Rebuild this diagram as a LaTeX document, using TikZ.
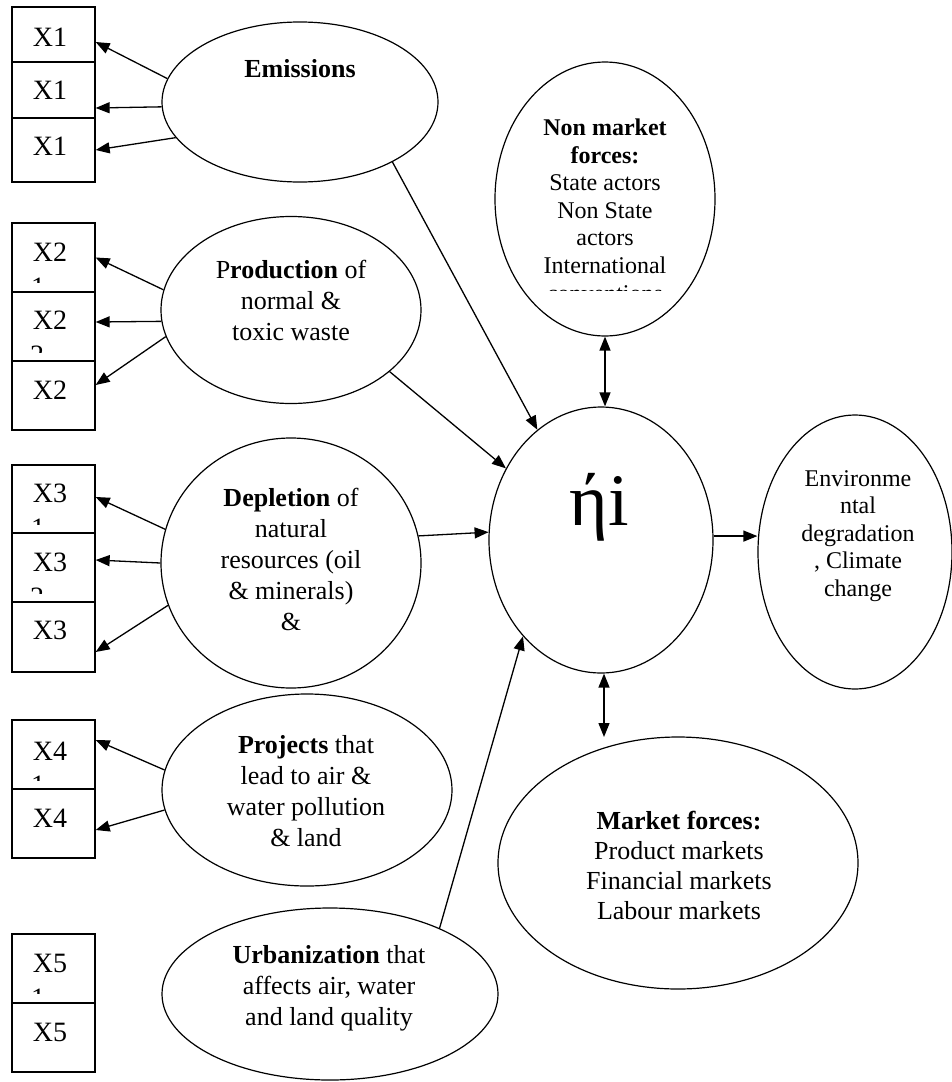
\documentclass[tikz,border=0pt]{standalone}
\usepackage{fontspec}
\setmainfont{Liberation Serif}
\usetikzlibrary{shapes.geometric,arrows.meta,calc}
\begin{document}
\begin{tikzpicture}[x=1pt,y=-1pt,
  line width=1.3pt,
  >={Triangle[length=14pt,width=11pt]},
  oval/.style={draw, ellipse, inner sep=0pt, line width=1.2pt},
  xbox/.style={draw, rectangle, minimum width=83pt, inner sep=0pt, line width=1.3pt},
  xlab/.style={inner sep=0pt, font=\fontsize{28}{32}\selectfont},
  subd/.style={inner sep=0pt, anchor=north, font=\fontsize{28}{32}\selectfont},
  txt/.style={inner sep=0pt, align=center, font=\fontsize{26}{31}\selectfont},
  stxt/.style={inner sep=0pt, align=center, font=\fontsize{24}{27.6}\selectfont},
  mtxt/.style={inner sep=0pt, align=center, font=\fontsize{26}{30}\selectfont},
  conn/.style={->, line width=1.3pt},
  dconn/.style={<->, line width=1.3pt}
]
\useasboundingbox (0,0) rectangle (952,1082);

% boxes
\node[xbox, minimum height=55pt] (b11) at (53.5,34.5) {};
\node[xbox, minimum height=56pt] (b12) at (53.5,90) {};
\node[xbox, minimum height=64pt] (b13) at (53.5,150) {};
\node[xbox, minimum height=69pt] (b21) at (53.5,257.5) {};
\node[xbox, minimum height=69pt] (b22) at (53.5,326.5) {};
\node[xbox, minimum height=69pt] (b23) at (53.5,395.5) {};
\node[xbox, minimum height=68pt] (b31) at (53.5,499) {};
\node[xbox, minimum height=69pt] (b32) at (53.5,567.5) {};
\node[xbox, minimum height=70pt] (b33) at (53.5,637) {};
\node[xbox, minimum height=69pt] (b41) at (53.5,754.5) {};
\node[xbox, minimum height=69pt] (b42) at (53.5,823.5) {};
\node[xbox, minimum height=69pt] (b51) at (53.5,968.5) {};
\node[xbox, minimum height=69pt] (b52) at (53.5,1037.5) {};

% box labels
\node[xlab] (l11) at (50,37) {X1};
\node[xlab] (l12) at (50,90) {X1};
\node[xlab] (l13) at (50,146) {X1};
\node[xlab] (l21) at (50,252) {X2};
\node[xlab] (l22) at (50,320) {X2};
\node[xlab] (l23) at (50,390) {X2};
\node[xlab] (l31) at (50,493) {X3};
\node[xlab] (l32) at (50,562) {X3};
\node[xlab] (l33) at (50,630) {X3};
\node[xlab] (l41) at (50,751) {X4};
\node[xlab] (l42) at (50,818) {X4};
\node[xlab] (l51) at (50,963) {X5};
\node[xlab] (l52) at (50,1032) {X5};

% clipped second lines
\begin{scope}\clip (0,260) rectangle (100,282); \node[subd] (s21) at (38,277) {1};\end{scope}
\begin{scope}\clip (0,330) rectangle (100,352); \node[subd] (s22) at (37,345) {2};\end{scope}
\begin{scope}\clip (0,505) rectangle (100,524); \node[subd] (s31) at (38,518) {1};\end{scope}
\begin{scope}\clip (0,575) rectangle (100,593); \node[subd] (s32) at (37,587) {2};\end{scope}
\begin{scope}\clip (0,760) rectangle (100,780); \node[subd] (s41) at (38,775) {1};\end{scope}
\begin{scope}\clip (0,975) rectangle (100,993); \node[subd] (s51) at (38,988) {1};\end{scope}

% ellipses
\node[oval, minimum width=276pt, minimum height=160pt] (em) at (300,102) {};
\node[oval, minimum width=260pt, minimum height=187pt] (pr) at (291,310) {};
\node[oval, minimum width=260pt, minimum height=250pt] (de) at (291,563) {};
\node[oval, minimum width=290pt, minimum height=192pt] (pj) at (307,790) {};
\node[oval, minimum width=336pt, minimum height=172pt] (ur) at (330,994) {};
\node[oval, minimum width=220pt, minimum height=274pt] (nm) at (605,199) {};
\node[oval, minimum width=224pt, minimum height=266pt] (eta) at (601,540) {};
\node[oval, minimum width=194pt, minimum height=274pt] (env) at (855,552) {};
\node[oval, minimum width=360pt, minimum height=252pt] (mk) at (678,863) {};

% texts
\node[txt] (tem) at (300,69) {\textbf{Emissions}};
\node[txt] (tpr) at (291,300) {P\textbf{roduction} of\\normal \&\\toxic waste};
\node[txt] (tde) at (291,559) {\textbf{Depletion} of\\natural\\resources (oil\\\& minerals)\\\&};
\node[txt] (tpj) at (306,791) {\textbf{Projects} that\\lead to air \&\\water pollution\\\& land};
\node[txt] (tur) at (329,988) {\textbf{Urbanization} that\\affects air, water\\and land quality};
\begin{scope}
\clip (480,50) rectangle (740,290);
\node[stxt] (tnm) at (605,210) {\textbf{Non market}\\\textbf{forces:}\\State actors\\Non State\\actors\\International\\conventions};
\end{scope}
\node[mtxt] (tmk) at (679,865) {\textbf{Market forces:}\\Product markets\\Financial markets\\Labour markets};
\node[stxt] (tenv) at (858,536) {Environme\\ntal\\degradation\\, Climate\\change};
\node[inner sep=0pt, font=\fontsize{74}{80}\selectfont] (teta) at (599,507) {ήi};

% connectors to boxes
\draw[conn] (em.170.6) -- ([yshift=-7.5pt]b11.east);
\draw[conn] (em.182.5) -- ([yshift=-18pt]b12.east);
\draw[conn] (em.196) -- (b13.east);
\draw[conn] (pr.171.6) -- (b21.east);
\draw[conn] (pr.185.3) -- ([yshift=4.5pt]b22.east);
\draw[conn] (pr.192.8) -- ([yshift=10.5pt]b23.east);
\draw[conn] (de.165) -- ([yshift=2pt]b31.east);
\draw[conn] (de.180) -- ([yshift=7.5pt]b32.east);
\draw[conn] (de.199) -- ([yshift=-15pt]b33.east);
\draw[conn] (pj.172.7) -- ([yshift=14.5pt]b41.east);
\draw[conn] (pj.188) -- ([yshift=-6.5pt]b42.east);

% connectors to centre
\draw[conn] (em.327) -- (eta.120.7);
\draw[conn] (pr.328.5) -- (eta.143);
\draw[conn] (de.12.7) -- (eta.176.4);
\draw[conn] (ur.31) -- (eta.231.7);
\draw[conn] (eta.2) -- (eta.2 -| env.west);
\draw[dconn] (nm.south) -- (nm.south |- eta.north);
\coordinate (mtop) at (604,737);
\draw[dconn] (eta.south -| mtop) -- (mtop);
\end{tikzpicture}
\end{document}
